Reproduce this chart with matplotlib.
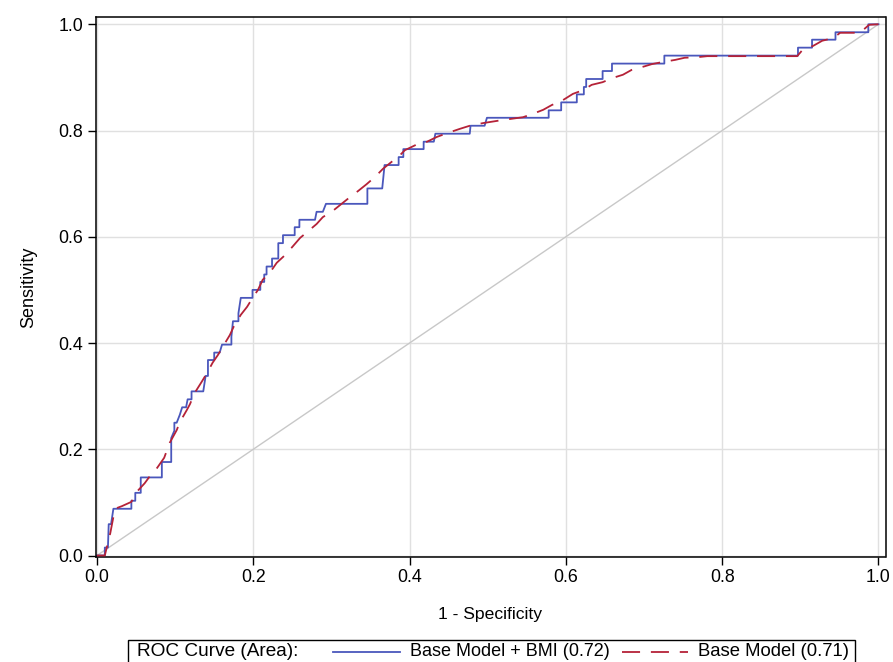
import matplotlib
matplotlib.use("Agg")
import matplotlib.pyplot as plt
from matplotlib.lines import Line2D
from matplotlib.patches import Rectangle

plt.rcParams['font.family'] = ['Liberation Sans', 'DejaVu Sans']

# Base Model + BMI (step ROC curve) - vertices
bmi_fpr = [0.0, 0.010, 0.010, 0.014, 0.015, 0.018, 0.021, 0.044, 0.044, 0.049, 0.049, 0.056, 0.056,
           0.083, 0.083, 0.095, 0.095, 0.099, 0.099, 0.102, 0.106, 0.109, 0.114, 0.116, 0.121, 0.121,
           0.136, 0.139, 0.142, 0.142, 0.150, 0.150, 0.157, 0.160, 0.172, 0.172, 0.174, 0.181, 0.181,
           0.184, 0.199, 0.199, 0.209, 0.209, 0.214, 0.214, 0.217, 0.217, 0.224, 0.224, 0.232, 0.232,
           0.238, 0.238, 0.253, 0.253, 0.259, 0.259, 0.279, 0.281, 0.289, 0.293, 0.346, 0.346, 0.365,
           0.368, 0.386, 0.386, 0.392, 0.392, 0.418, 0.418, 0.431, 0.433, 0.477, 0.478, 0.496, 0.499,
           0.578, 0.578, 0.594, 0.594, 0.614, 0.614, 0.623, 0.623, 0.626, 0.626, 0.647, 0.647, 0.659,
           0.659, 0.726, 0.726, 0.897, 0.897, 0.915, 0.915, 0.945, 0.945, 0.987, 0.987, 1.0]
bmi_tpr = [0.0, 0.0, 0.015, 0.015, 0.059, 0.059, 0.088, 0.088, 0.103, 0.103, 0.118, 0.118, 0.147,
           0.147, 0.176, 0.176, 0.221, 0.235, 0.250, 0.250, 0.265, 0.279, 0.279, 0.294, 0.294, 0.309,
           0.309, 0.338, 0.338, 0.368, 0.368, 0.382, 0.382, 0.397, 0.397, 0.412, 0.441, 0.441, 0.456,
           0.485, 0.485, 0.500, 0.500, 0.515, 0.515, 0.529, 0.529, 0.544, 0.544, 0.559, 0.559, 0.588,
           0.588, 0.603, 0.603, 0.618, 0.618, 0.632, 0.632, 0.647, 0.647, 0.662, 0.662, 0.691, 0.691,
           0.735, 0.735, 0.750, 0.750, 0.765, 0.765, 0.779, 0.779, 0.794, 0.794, 0.809, 0.809, 0.824,
           0.824, 0.838, 0.838, 0.853, 0.853, 0.868, 0.868, 0.882, 0.882, 0.897, 0.897, 0.912, 0.912,
           0.926, 0.926, 0.941, 0.941, 0.956, 0.956, 0.971, 0.971, 0.985, 0.985, 1.0, 1.0]

# Base Model (dashed ROC curve)
base_fpr = [0.0, 0.010, 0.017, 0.020, 0.023, 0.032, 0.044, 0.051, 0.061, 0.068, 0.077, 0.086, 0.093,
            0.102, 0.106, 0.115, 0.119, 0.125, 0.134, 0.141, 0.148, 0.155, 0.161, 0.170, 0.175, 0.184,
            0.192, 0.200, 0.206, 0.212, 0.221, 0.230, 0.241, 0.250, 0.260, 0.269, 0.281, 0.289, 0.302,
            0.313, 0.324, 0.334, 0.345, 0.356, 0.366, 0.377, 0.388, 0.394, 0.411, 0.421, 0.435, 0.448,
            0.464, 0.477, 0.494, 0.520, 0.545, 0.557, 0.571, 0.582, 0.596, 0.609, 0.622, 0.633, 0.647,
            0.660, 0.673, 0.684, 0.701, 0.710, 0.724, 0.740, 0.752, 0.768, 0.781, 0.896, 0.903, 0.916,
            0.928, 0.942, 0.951, 0.976, 0.981, 0.988, 1.0]
base_tpr = [0.0, 0.0, 0.042, 0.065, 0.088, 0.093, 0.101, 0.120, 0.136, 0.150, 0.165, 0.184, 0.212,
            0.236, 0.251, 0.274, 0.285, 0.306, 0.327, 0.344, 0.363, 0.378, 0.393, 0.415, 0.431, 0.453,
            0.468, 0.487, 0.500, 0.519, 0.532, 0.551, 0.566, 0.581, 0.598, 0.609, 0.624, 0.637, 0.649,
            0.662, 0.675, 0.686, 0.699, 0.713, 0.728, 0.741, 0.754, 0.763, 0.775, 0.778, 0.788, 0.795,
            0.803, 0.809, 0.814, 0.820, 0.825, 0.831, 0.839, 0.848, 0.857, 0.869, 0.876, 0.886, 0.891,
            0.899, 0.905, 0.914, 0.921, 0.925, 0.929, 0.933, 0.937, 0.938, 0.940, 0.940, 0.952, 0.959,
            0.969, 0.974, 0.984, 0.984, 0.990, 0.999, 1.0]

ticks = [0.0, 0.2, 0.4, 0.6, 0.8, 1.0]
tick_labels = ["0.0", "0.2", "0.4", "0.6", "0.8", "1.0"]
label_bmi = "Base Model + BMI (0.72)"
label_base = "Base Model (0.71)"
legend_title = "ROC Curve (Area):"

BLUE = '#4A57BC'
RED = '#B52238'
blue_style = dict(color=BLUE, lw=1.3, ls='-')
red_style = dict(color=RED, lw=1.3, ls=(0, (10, 6)))

W, H = 893, 662
fig = plt.figure(figsize=(W / 100, H / 100), dpi=100)
ax = fig.add_axes([95.5 / W, 1 - 557 / H, (885.5 - 95.5) / W, (557 - 17) / H])

ax.set_xlim(-0.0019, 1.009)
ax.set_ylim(-0.0028, 1.0137)

for t in ticks:
    ax.axhline(t, color='#E0E0E0', lw=1.0, zorder=0)
    ax.axvline(t, color='#E0E0E0', lw=1.0, zorder=0)
ax.plot([0, 1], [0, 1], color='#C8C8C8', lw=1.0, zorder=1)

ax.plot(base_fpr, base_tpr, zorder=3, **red_style)
ax.plot(bmi_fpr, bmi_tpr, zorder=2, **blue_style)

ax.set_xticks(ticks)
ax.set_xticklabels(tick_labels)
ax.set_yticks(ticks)
ax.set_yticklabels(tick_labels)
ax.tick_params(direction='out', length=6, width=1.0, labelsize=12.8, colors='black', pad=3)
for s in ax.spines.values():
    s.set_linewidth(1.1)
    s.set_color('black')

ax.set_xlabel("1 - Specificity", fontsize=12.6, labelpad=15)
ax.set_ylabel("Sensitivity", fontsize=13, labelpad=15)

# Legend drawn in figure coordinates
fig.patches.append(Rectangle((128 / W, 1 - 665 / H), (855 - 128) / W, (665 - 640) / H,
                             transform=fig.transFigure, fill=False, edgecolor='black', lw=1.0))
ytxt = 1 - 652 / H
fig.text(137 / W, ytxt, legend_title, fontsize=13.7, va='center', ha='left')
fig.lines.append(Line2D([333 / W, 400 / W], [ytxt, ytxt], transform=fig.transFigure, **blue_style))
fig.text(410 / W, ytxt, label_bmi, fontsize=13, va='center', ha='left')
fig.lines.append(Line2D([622 / W, 688 / W], [ytxt, ytxt], transform=fig.transFigure, **red_style))
fig.text(698 / W, ytxt, label_base, fontsize=13.3, va='center', ha='left')

fig.savefig("out.png", dpi=100)
